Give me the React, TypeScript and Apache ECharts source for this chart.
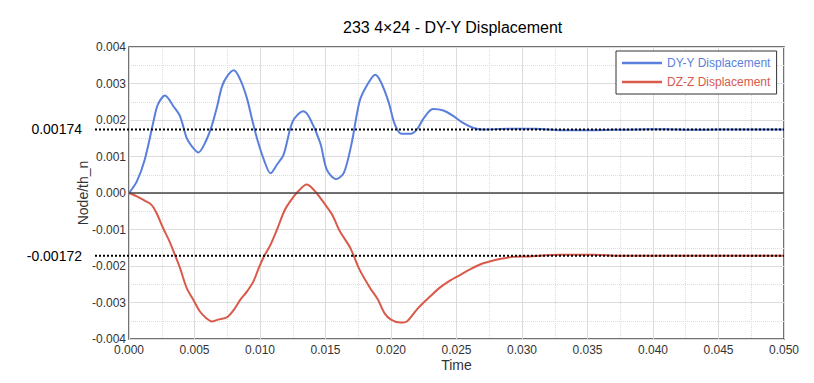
import React, { useEffect, useRef } from "react";
import * as echarts from "echarts";

const chartTitle = "233 4×24 - DY-Y Displacement";
const xAxisName = "Time";
const yAxisName = "Node/th_n";
const seriesNames = ["DY-Y Displacement", "DZ-Z Displacement"];
const seriesColors = ["#5a7fdc", "#d95a4a"];

const dyTime = [
  0, 0.0006, 0.0012, 0.0019, 0.0022, 0.00275, 0.0034, 0.0039, 0.0044, 0.0048, 0.0053, 0.0058,
  0.0063, 0.0067, 0.0071, 0.0075, 0.008, 0.0085, 0.009, 0.0094, 0.0098, 0.0103, 0.0108, 0.0113,
  0.0118, 0.0125, 0.0133, 0.0138, 0.0146, 0.0151, 0.0158, 0.0164, 0.017, 0.0176, 0.0182, 0.0188,
  0.0192, 0.0198, 0.0203, 0.0208, 0.0215, 0.022, 0.0225, 0.0232, 0.024, 0.0248, 0.0255, 0.0263,
  0.027, 0.029, 0.031, 0.033, 0.035, 0.037, 0.039, 0.041, 0.043, 0.045, 0.047, 0.05,
];
const dyValues = [
  0, 0.00032, 0.00091, 0.00201, 0.00242, 0.00267, 0.00237, 0.0021, 0.00151, 0.00128, 0.00111, 0.00137,
  0.00182, 0.00233, 0.00292, 0.0032, 0.00336, 0.0031, 0.0026, 0.00201, 0.00146, 0.00091, 0.00054, 0.00078,
  0.00105, 0.00196, 0.00224, 0.00205, 0.00137, 0.00064, 0.00038, 0.00055, 0.00137, 0.00251, 0.00297, 0.00324,
  0.00306, 0.00251, 0.00187, 0.00162, 0.00162, 0.00175, 0.00205, 0.0023, 0.00226, 0.0021, 0.00192, 0.00178,
  0.00174, 0.00176, 0.00176, 0.00172, 0.00172, 0.00173, 0.00174, 0.00175, 0.00173, 0.00174, 0.00174, 0.00174,
];

const dzTime = [
  0, 0.0006, 0.0012, 0.0017, 0.0021, 0.0026, 0.0031, 0.0035, 0.0039, 0.0044, 0.0049, 0.0054,
  0.0059, 0.0063, 0.0068, 0.0075, 0.008, 0.0085, 0.009, 0.0095, 0.0099, 0.0103, 0.0108, 0.0113,
  0.0119, 0.0124, 0.0129, 0.01356, 0.0141, 0.0148, 0.0155, 0.0161, 0.0169, 0.0176, 0.0184, 0.019,
  0.0195, 0.02, 0.0207, 0.0212, 0.022, 0.023, 0.0237, 0.0245, 0.0253, 0.026, 0.0268, 0.0276,
  0.0283, 0.0293, 0.0304, 0.0329, 0.0355, 0.0375, 0.04, 0.045, 0.05,
];
const dzValues = [
  0, -0.00009, -0.00021, -0.00032, -0.00055, -0.00096, -0.00133, -0.00169, -0.00206, -0.0026, -0.00292, -0.00324,
  -0.00343, -0.00352, -0.00347, -0.0034, -0.0032, -0.00292, -0.0027, -0.00242, -0.00206, -0.00174, -0.00142, -0.001,
  -0.00046, -0.00018, 0.00004, 0.00023, 0.00009, -0.00023, -0.00059, -0.00105, -0.00151, -0.0021, -0.0026, -0.00292,
  -0.00329, -0.00347, -0.00355, -0.00352, -0.00318, -0.00283, -0.0026, -0.0024, -0.00224, -0.0021, -0.00196, -0.00187,
  -0.00181, -0.00175, -0.00174, -0.00169, -0.00169, -0.00172, -0.00172, -0.00172, -0.00172,
];

const refLevels = [0.00174, -0.00172];
const refLabels = ["0.00174", "-0.00172"];

const FONT = "'Liberation Sans', Arial, sans-serif";

export default function App() {
  const ref = useRef<HTMLDivElement>(null);
  useEffect(() => {
    if (!ref.current) return;
    const chart = echarts.init(ref.current, undefined, { renderer: "svg" });
    const pair = (t: number[], v: number[]) => t.map((x, i) => [x, v[i]]);
    chart.setOption({
      animation: false,
      backgroundColor: "#ffffff",
      textStyle: { fontFamily: FONT },
      title: {
        text: chartTitle,
        left: 338,
        top: 14,
        textStyle: { fontSize: 16, fontWeight: "normal", color: "#000", fontFamily: FONT },
      },
      legend: {
        orient: "vertical",
        left: 616,
        top: 51,
        padding: [6, 6, 6, 6],
        itemGap: 7,
        itemWidth: 40,
        itemHeight: 2.5,
        icon: "rect",
        borderColor: "#333",
        borderWidth: 1,
        backgroundColor: "#fff",
        borderRadius: 0,
        data: seriesNames.map((n, i) => ({ name: n, textStyle: { color: seriesColors[i] } })),
        textStyle: { fontSize: 12, fontFamily: FONT },
      },
      grid: {
        left: 129,
        right: 30,
        top: 47,
        bottom: 44,
        show: true,
        borderColor: "#444",
        borderWidth: 1.5,
      },
      xAxis: {
        type: "value",
        min: 0,
        max: 0.05,
        interval: 0.005,
        name: xAxisName,
        nameLocation: "middle",
        nameGap: 19,
        nameMoveOverlap: false,
        nameTextStyle: { fontSize: 14, color: "#333", fontFamily: FONT },
        axisLine: { show: false, onZero: false },
        axisTick: { show: false },
        axisLabel: { fontSize: 12, color: "#333", margin: 5, formatter: (v: number) => v.toFixed(3) },
        splitLine: { show: true, lineStyle: { color: "#dcdcdc", width: 1 } },
        minorTick: { show: false, splitNumber: 2 },
        minorSplitLine: { show: true, lineStyle: { color: "#dcdcdc", type: "dotted", width: 1 } },
      },
      yAxis: {
        type: "value",
        min: -0.004,
        max: 0.004,
        interval: 0.001,
        name: yAxisName,
        nameLocation: "middle",
        nameGap: 39,
        nameMoveOverlap: false,
        nameRotate: 90,
        nameTextStyle: { fontSize: 14, color: "#333", fontFamily: FONT },
        axisLine: { show: false },
        axisTick: { show: false },
        axisLabel: { fontSize: 12, color: "#333", margin: 3, formatter: (v: number) => v.toFixed(3) },
        splitLine: { show: true, lineStyle: { color: "#dcdcdc", width: 1 } },
        minorTick: { show: false, splitNumber: 2 },
        minorSplitLine: { show: true, lineStyle: { color: "#dcdcdc", type: "dotted", width: 1 } },
      },
      series: [
        {
          name: seriesNames[0],
          type: "line",
          data: pair(dyTime, dyValues),
          smooth: 0.3,
          showSymbol: false,
          lineStyle: { color: seriesColors[0], width: 2 },
          itemStyle: { color: seriesColors[0] },
          z: 3,
          markLine: {
            silent: true,
            symbol: "none",
            label: { show: false },
            lineStyle: { color: "#444", type: "solid", width: 1.5 },
            data: [{ yAxis: 0 }],
          },
        },
        {
          name: seriesNames[1],
          type: "line",
          data: pair(dzTime, dzValues),
          smooth: 0.3,
          showSymbol: false,
          lineStyle: { color: seriesColors[1], width: 2 },
          itemStyle: { color: seriesColors[1] },
          z: 3,
        },
      ],
    });
    const xRight = chart.convertToPixel({ xAxisIndex: 0 }, 0.05) as number;
    const elements: any[] = [];
    refLevels.forEach((lv, i) => {
      const y = chart.convertToPixel({ yAxisIndex: 0 }, lv) as number;
      elements.push({
        type: "line",
        shape: { x1: 95, y1: y, x2: xRight, y2: y },
        style: { stroke: "#000", lineWidth: 2, lineDash: [2, 2] },
        z: 10,
      });
      elements.push({
        type: "text",
        x: 82,
        y: y,
        style: {
          text: refLabels[i],
          fontSize: 14,
          fontFamily: FONT,
          fill: "#000",
          align: "right",
          verticalAlign: "middle",
        },
        z: 10,
      });
    });
    chart.setOption({ graphic: { elements } });
    return () => chart.dispose();
  }, []);
  return (
    <div
      ref={ref}
      style={{ position: "fixed", left: 0, top: 0, width: 814, height: 383 }}
    />
  );
}
